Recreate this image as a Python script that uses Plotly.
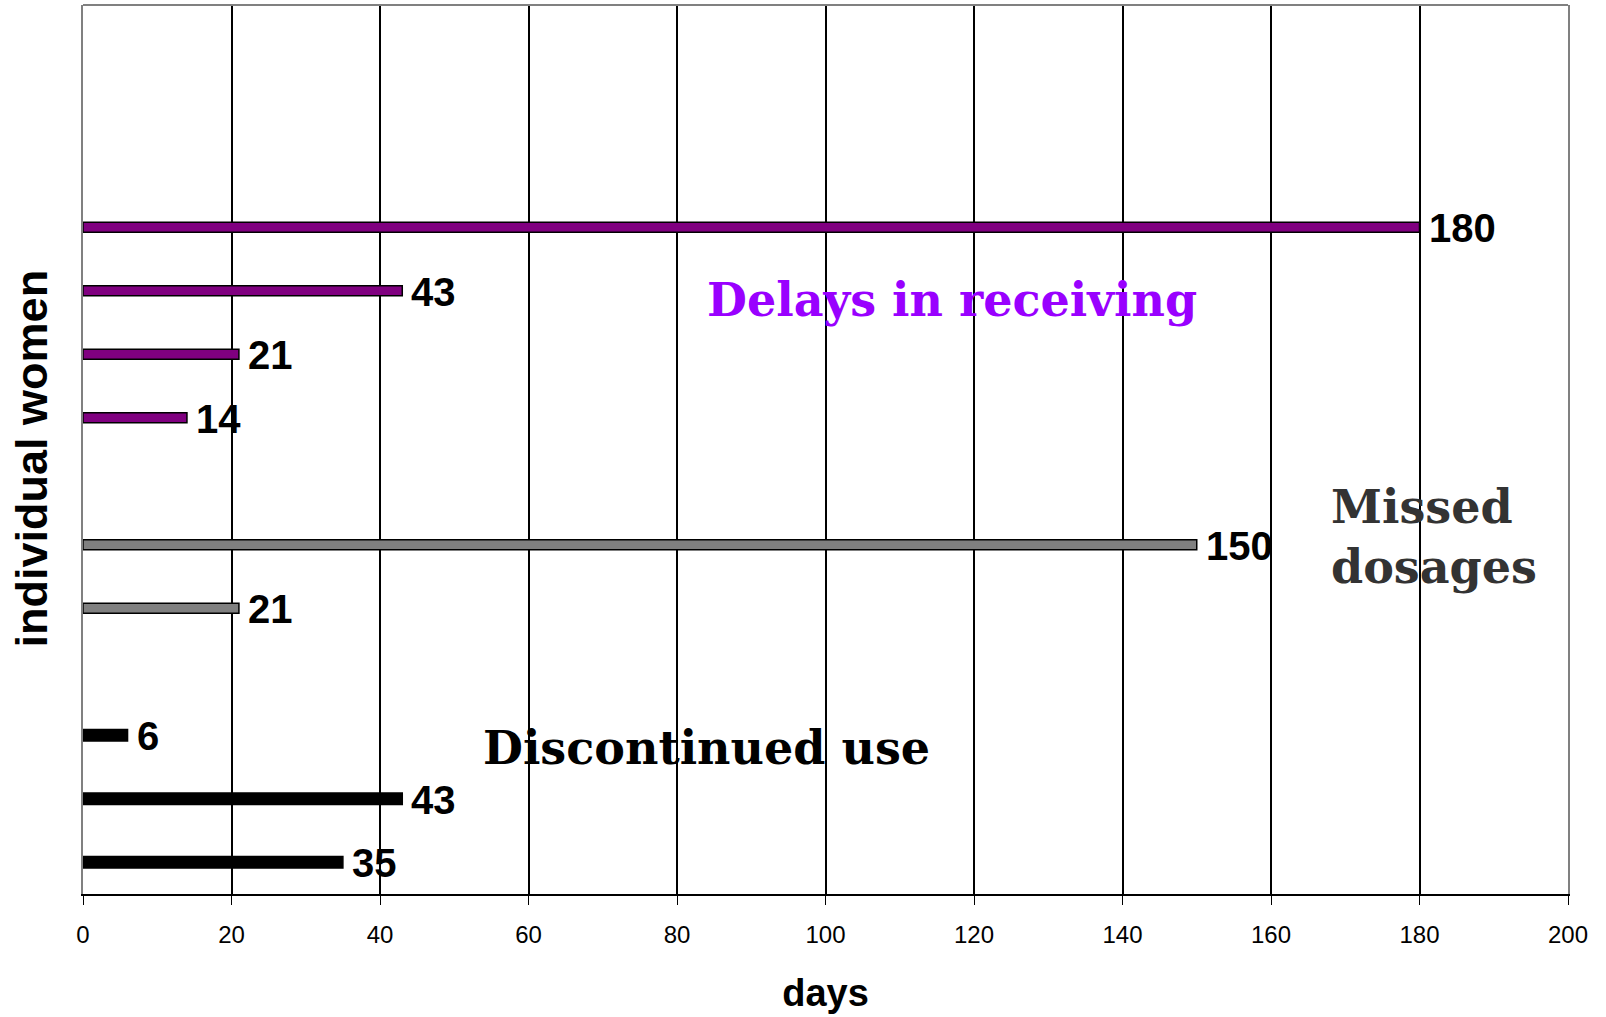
import plotly.graph_objects as go

# ---- data ----
row_slots = list(range(1, 15))            # 14 row slots for individual women (bottom = 1)
delay_rows = [11, 10, 9, 8]
delay_days = [180, 43, 21, 14]
missed_rows = [6, 5]
missed_days = [150, 21]
discontinued_rows = [3, 2, 1]
discontinued_days = [6, 43, 35]
x_ticks = [0, 20, 40, 60, 80, 100, 120, 140, 160, 180, 200]

LABEL_FONT = dict(family="Liberation Sans, Arial, sans-serif", size=40, color="black", weight="bold")
SERIF = "DejaVu Serif, Liberation Serif, serif"

fig = go.Figure()
label_annotations = []

def add_series(rows, days, fill, width):
    fig.add_trace(go.Bar(
        x=days, y=rows, orientation="h", width=width,
        marker=dict(color=fill, line=dict(color="black", width=1.5)),
        showlegend=False, hoverinfo="x",
    ))
    for r, d in zip(rows, days):
        label_annotations.append(dict(
            text=str(d), xref="x", yref="y", x=d, y=r, xanchor="left", yanchor="middle",
            xshift=7, yshift=-1, showarrow=False, font=LABEL_FONT))

add_series(delay_rows, delay_days, "#800080", 0.16)
add_series(missed_rows, missed_days, "#808080", 0.16)
add_series(discontinued_rows, discontinued_days, "#000000", 0.18)

fig.update_layout(
    width=1606, height=1017,
    margin=dict(l=83, r=38, t=5, b=123),
    paper_bgcolor="white", plot_bgcolor="white",
    barmode="overlay",
    xaxis=dict(
        range=[0, 200], tickmode="array", tickvals=x_ticks,
        showgrid=True, gridcolor="black", gridwidth=1.5,
        showline=True, linecolor="black", linewidth=2,
        ticks="outside", ticklen=9, tickwidth=1.3, tickcolor="black",
        zeroline=False, automargin=False,
        tickfont=dict(family="Liberation Sans, Arial, sans-serif", size=24, color="black"),
        ticklabelstandoff=9,
        title=dict(text="days", standoff=33,
                   font=dict(family="Liberation Sans, Arial, sans-serif", size=38,
                             color="black", weight="bold")),
    ),
    yaxis=dict(
        range=[0.5, 14.5], tickvals=row_slots, showticklabels=False,
        showgrid=False, zeroline=False, ticks="",
        showline=True, linecolor="#808080", linewidth=2, mirror=True,
        automargin=False,
    ),
    shapes=[dict(type="line", xref="paper", yref="paper", x0=0, x1=1, y0=1, y1=1,
                 line=dict(color="#808080", width=2), layer="above")],
    annotations=label_annotations + [
        dict(text="individual women", textangle=-90, xref="paper", yref="paper",
             x=-0.035, y=0.49, xanchor="center", yanchor="middle", showarrow=False,
             font=dict(family="Liberation Sans, Arial, sans-serif", size=45,
                       color="black", weight="bold")),
        dict(text="Delays in receiving", xref="x", yref="y", x=117, y=9.85,
             xanchor="center", yanchor="middle", showarrow=False,
             font=dict(family=SERIF, size=46, color="#9900FF", weight="bold")),
        dict(text="Missed<br>dosages", xref="x", yref="y", x=167.8, y=6.12,
             xanchor="left", yanchor="middle", align="left", showarrow=False,
             font=dict(family=SERIF, size=46, color="#333333", weight="bold")),
        dict(text="Discontinued use", xref="x", yref="y", x=84.0, y=2.80,
             xanchor="center", yanchor="middle", showarrow=False,
             font=dict(family=SERIF, size=46, color="black", weight="bold")),
    ],
)

fig.write_html("out.html", config={"displayModeBar": False},
               post_script="document.body.style.margin='0px';")
